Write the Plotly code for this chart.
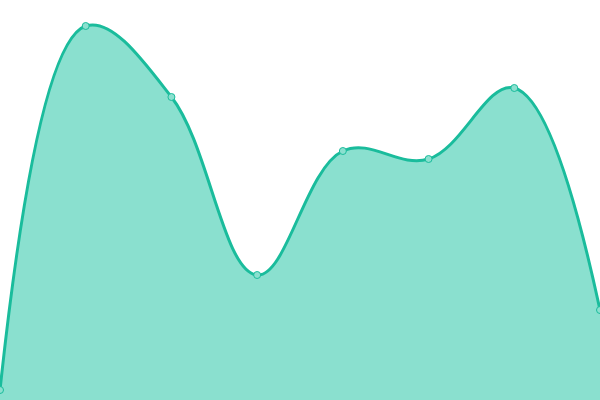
import plotly.graph_objects as go

x_vals = [0, 1, 2, 3, 4, 5, 6, 7]
y_vals = [10, 374, 303, 125, 249, 241, 312, 90]

fig = go.Figure()
fig.add_trace(go.Scatter(
    x=x_vals, y=y_vals,
    mode='lines+markers',
    fill='tozeroy',
    fillcolor='#8ae0cf',
    line=dict(color='#1abc9c', width=3, shape='spline', smoothing=1.1),
    marker=dict(size=7, color='#8be0cf', line=dict(color='#1abc9c', width=1)),
    hoverinfo='skip',
))
fig.update_layout(
    width=600, height=400,
    margin=dict(l=0, r=0, t=0, b=0),
    paper_bgcolor='white', plot_bgcolor='white',
    showlegend=False,
    xaxis=dict(range=[0, 7], visible=False),
    yaxis=dict(range=[0, 400], visible=False),
)
# page body has an 8px margin by default, drop it so the chart fills the window
fig.write_html("out.html", config={'displayModeBar': False},
               post_script="document.body.style.margin='0';")
